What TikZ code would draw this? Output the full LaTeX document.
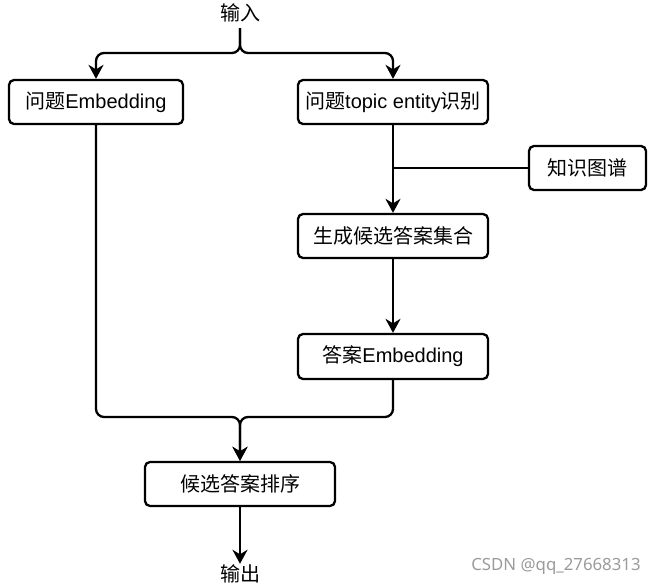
\documentclass[tikz,border=0pt]{standalone}
\usepackage{fontspec}
\setmainfont{Liberation Sans}
\newfontfamily\cjk{Noto Sans CJK SC}
\newfontfamily\wm{Noto Sans}
\usetikzlibrary{arrows.meta}
\definecolor{wmgray}{RGB}{155,155,155}
\begin{document}
\begin{tikzpicture}[x=1pt,y=-1pt,
  box/.style={draw=black, line width=2.3pt, rounded corners=5pt, fill=white,
    minimum height=44pt, inner sep=0pt, font=\fontsize{20pt}{24pt}\selectfont},
  lbl/.style={inner sep=0pt, minimum height=30pt, font=\fontsize{20pt}{24pt}\selectfont},
  conn/.style={line width=2.3pt, rounded corners=8pt},
  arr/.style={conn, -{Stealth[length=14pt,width=15pt,inset=4.5pt]}}
]
\useasboundingbox (0,0) rectangle (657,586);

\node[lbl] (in) at (240,13) {\cjk 输入};
\node[box, minimum width=174pt] (qe) at (96,102) {{\cjk 问题}Embedding};
\node[box, minimum width=190pt] (te) at (393,102) {{\cjk 问题}topic entity{\cjk 识别}};
\node[box, minimum width=117pt] (kg) at (587.5,168) {\cjk 知识图谱};
\node[box, minimum width=190pt] (gen) at (393,236) {\cjk 生成候选答案集合};
\node[box, minimum width=190pt, minimum height=45pt] (ae) at (393,356.5) {{\cjk 答案}Embedding};
\node[box, minimum width=190pt] (rank) at (240,484) {\cjk 候选答案排序};
\node[lbl] (out) at (240,574) {\cjk 输出};
\node[inner sep=0pt, text=wmgray, font=\wm\fontsize{16.8pt}{20pt}\selectfont] (wmk) at (556,566) {CSDN @qq\_27668313};

\coordinate (split) at (240,53);
\coordinate (merge) at (240,417);

\draw[arr] (in.south) -- (split) -| (qe.north);
\draw[arr] (in.south) -- (split) -| (te.north);
\draw[arr] (te.south) -- (gen.north);
\draw[conn] (kg.west) -- (kg.west -| te.south);
\draw[arr] (gen.south) -- (ae.north);
\draw[arr] (qe.south) |- (merge) -- (rank.north);
\draw[arr] (ae.south) |- (merge) -- (rank.north);
\draw[arr] (rank.south) -- ([yshift=-5pt]out.north);
\end{tikzpicture}
\end{document}
